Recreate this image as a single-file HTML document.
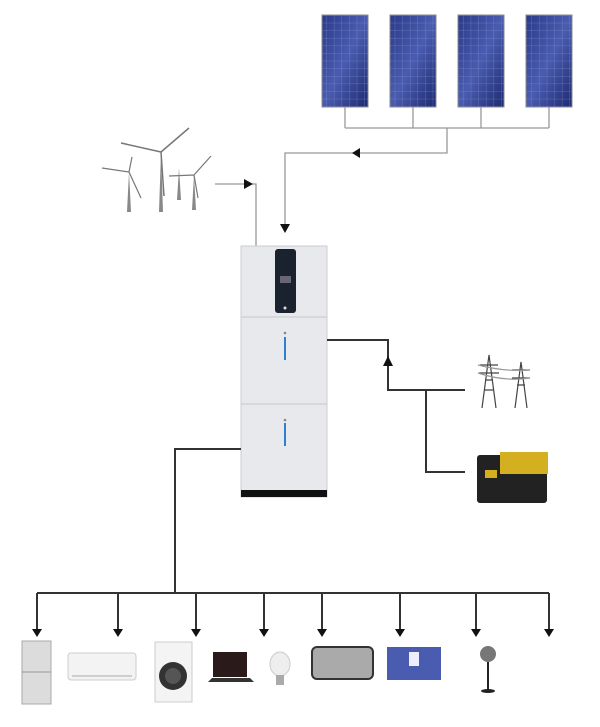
<!DOCTYPE html>
<html><head><style>
html,body{margin:0;padding:0;background:#fff;width:600px;height:727px;overflow:hidden}
</style></head><body>
<svg width="600" height="727" viewBox="0 0 600 727" xmlns="http://www.w3.org/2000/svg">
<defs>
<linearGradient id="pv" x1="0" y1="0" x2="1" y2="1">
<stop offset="0" stop-color="#2a3a8a"/><stop offset="0.5" stop-color="#4a5cb0"/><stop offset="1" stop-color="#1e2a70"/></linearGradient>
<pattern id="cells" width="7.6" height="7.6" patternUnits="userSpaceOnUse"><path d="M0 0H7.6V7.6" fill="none" stroke="#8a96cc" stroke-width="0.5"/></pattern>
</defs>
<!-- solar panels -->
<g stroke="#888" stroke-width="1">
<rect x="322" y="15" width="46" height="92" fill="url(#pv)"/><rect x="322" y="15" width="46" height="92" fill="url(#pattern)" />
<rect x="390" y="15" width="46" height="92" fill="url(#pv)"/>
<rect x="458" y="15" width="46" height="92" fill="url(#pv)"/>
<rect x="526" y="15" width="46" height="92" fill="url(#pv)"/>
</g>
<g fill="url(#cells)"><rect x="322" y="15" width="46" height="92"/><rect x="390" y="15" width="46" height="92"/><rect x="458" y="15" width="46" height="92"/><rect x="526" y="15" width="46" height="92"/></g>
<g stroke="#999" stroke-width="1.3" fill="none">
<path d="M345 107V128M413 107V128M481 107V128M549 107V128M345 128H549M447 128V153H285V228"/>
<path d="M215 184H256V246"/>
</g>
<g fill="#111">
<path d="M352 153l8-5v10z"/><path d="M280 224h10l-5 9z"/><path d="M244 179v10l9-5z"/>
</g>
<!-- wind turbines -->
<g stroke="#777" fill="#888" stroke-width="1.2">
<path d="M161 152L159 212h4z" stroke="none"/><path d="M161 152L189 128M161 152L121 143M161 152L164 196" fill="none" stroke-width="1.5"/>
<path d="M129 172L127 212h4z" stroke="none"/><path d="M129 172L132 157M129 172L102 168M129 172L141 198" fill="none"/>
<path d="M194 175L192 210h4z" stroke="none"/><path d="M194 175L211 156M194 175L169 176M194 175L198 198" fill="none"/>
<path d="M179 168L177 200h4z" stroke="none"/>
</g>
<!-- unit -->
<rect x="241" y="246" width="86" height="251" fill="#e8e9ec" stroke="#ccc"/>
<line x1="241" y1="317" x2="327" y2="317" stroke="#c8c8cc"/>
<line x1="241" y1="404" x2="327" y2="404" stroke="#c8c8cc"/>
<rect x="241" y="490" width="86" height="7" fill="#111"/>
<rect x="275" y="249" width="21" height="64" rx="3" fill="#1a2230"/>
<rect x="280" y="276" width="11" height="7" fill="#667"/>
<circle cx="285" cy="308" r="1.5" fill="#ddd"/>
<rect x="284" y="337" width="2" height="23" fill="#2d7fd0"/><circle cx="285" cy="333" r="1.3" fill="#888"/>
<rect x="284" y="423" width="2" height="23" fill="#2d7fd0"/><circle cx="285" cy="420" r="1.3" fill="#888"/>
<!-- grid lines -->
<g stroke="#333" stroke-width="2" fill="none">
<path d="M327 340H388V390H465M426 390V472H465"/>
<path d="M241 449H175V593M37 593H549"/>
<path d="M37 593V630M118 593V630M196 593V630M264 593V630M322 593V630M400 593V630M476 593V630M549 593V630"/>
</g>
<path d="M383 366h10l-5-10z" fill="#111"/>
<g fill="#111">
<path d="M32 629h10l-5 8z"/><path d="M113 629h10l-5 8z"/><path d="M191 629h10l-5 8z"/><path d="M259 629h10l-5 8z"/><path d="M317 629h10l-5 8z"/><path d="M395 629h10l-5 8z"/><path d="M471 629h10l-5 8z"/><path d="M544 629h10l-5 8z"/>
</g>
<!-- pylons -->
<g stroke="#444" stroke-width="1.2" fill="none">
<path d="M482 408L489 355L496 408M485 380h8M480 365h18M479 373h20M484 390h10"/>
<path d="M515 408L521 362L527 408M517 385h8M512 370h18M512 378h18"/>
<path d="M478 365Q505 372 530 370M478 373Q505 382 530 378" stroke="#999"/>
</g>
<!-- generator -->
<rect x="477" y="455" width="70" height="48" rx="3" fill="#222"/>
<rect x="500" y="452" width="48" height="22" fill="#d4b020"/>
<rect x="485" y="470" width="12" height="8" fill="#d4b020"/>
<!-- appliances -->
<rect x="22" y="641" width="29" height="63" fill="#dcdcdc" stroke="#aaa"/><line x1="22" y1="672" x2="51" y2="672" stroke="#999"/>
<rect x="68" y="653" width="68" height="27" rx="3" fill="#f3f3f3" stroke="#ccc"/><line x1="72" y1="676" x2="132" y2="676" stroke="#aaa"/>
<rect x="155" y="642" width="37" height="60" fill="#f4f4f4" stroke="#ccc"/><circle cx="173" cy="676" r="14" fill="#333"/><circle cx="173" cy="676" r="8" fill="#555"/>
<rect x="213" y="652" width="34" height="25" fill="#2a1a1a"/><path d="M208 682h46l-4-4h-38z" fill="#333"/>
<ellipse cx="280" cy="664" rx="10" ry="12" fill="#eee" stroke="#ccc"/><rect x="276" y="675" width="8" height="10" fill="#aaa"/>
<rect x="312" y="647" width="61" height="32" rx="5" fill="#aaa" stroke="#333" stroke-width="2"/>
<rect x="387" y="647" width="54" height="33" fill="#4a5cb0"/><rect x="409" y="652" width="10" height="14" fill="#eef"/>
<circle cx="488" cy="654" r="8" fill="#777"/><line x1="488" y1="662" x2="488" y2="690" stroke="#222" stroke-width="2"/><ellipse cx="488" cy="691" rx="7" ry="2" fill="#222"/>
</svg>
</body></html>
